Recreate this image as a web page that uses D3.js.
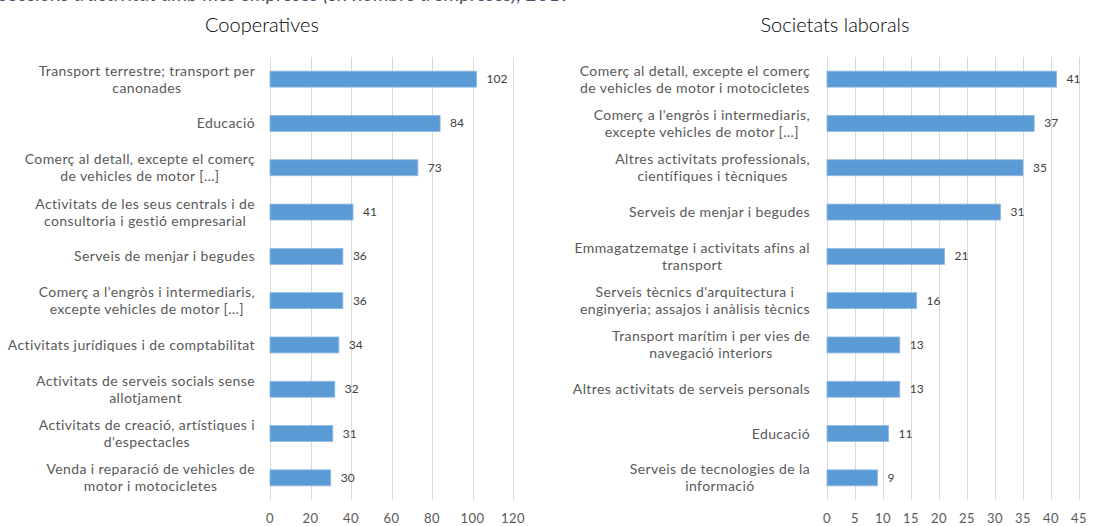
<!DOCTYPE html>
<html>
<head>
<meta charset="utf-8">
<script src="https://cdn.jsdelivr.net/npm/d3@7"></script>
<style>
  body { margin: 0; background: #fff; }
  svg { display: block; }
</style>
</head>
<body>
<svg id="chart" width="1094" height="526"></svg>
<script>
// top caption (clipped off in the source picture)
let caption = "Seccions d'activitat amb més empreses (en nombre d'empreses), 2019";

let coopTitle = "Cooperatives";
let coopCats = [
    "Transport terrestre; transport per\ncanonades",
    "Educació",
    "Comerç al detall, excepte el comerç\nde vehicles de motor  […]",
    "Activitats de les seus centrals i de\nconsultoria i gestió empresarial",
    "Serveis de menjar i begudes",
    "Comerç a l'engròs i intermediaris,\nexcepte vehicles de motor […]",
    "Activitats jurídiques i de comptabilitat",
    "Activitats de serveis socials sense\nallotjament",
    "Activitats de creació, artístiques i\nd'espectacles",
    "Venda i reparació de vehicles de\nmotor i motocicletes"
];
let coopValues = [102, 84, 73, 41, 36, 36, 34, 32, 31, 30];
let coopTicks = [0, 20, 40, 60, 80, 100, 120];

let slTitle = "Societats laborals";
let slCats = [
    "Comerç al detall, excepte el comerç\nde vehicles de motor i motocicletes",
    "Comerç a l'engròs i intermediaris,\nexcepte vehicles de motor […]",
    "Altres activitats professionals,\ncientífiques i tècniques",
    "Serveis de menjar i begudes",
    "Emmagatzematge i activitats afins al\ntransport",
    "Serveis tècnics d'arquitectura i\nenginyeria; assajos i anàlisis tècnics",
    "Transport marítim i per vies de\nnavegació interiors",
    "Altres activitats de serveis personals",
    "Educació",
    "Serveis de tecnologies de la\ninformació"
];
let slValues = [41, 37, 35, 31, 21, 16, 13, 13, 11, 9];
let slTicks = [0, 5, 10, 15, 20, 25, 30, 35, 40, 45];

let font = "Lato, 'Open Sans', sans-serif";
let svg = d3.select("#chart");

svg.append("text")
    .attr("x", -2)
    .attr("y", 1)
    .attr("font-family", font)
    .attr("font-style", "italic")
    .attr("font-size", 20)
    .attr("fill", "#44546a")
    .text(caption);

drawPanel({
    title: coopTitle, titleX: 262,
    cats: coopCats, values: coopValues, ticks: coopTicks,
    x0: 270, x1: 513, labelRight: 255
});

drawPanel({
    title: slTitle, titleX: 835,
    cats: slCats, values: slValues, ticks: slTicks,
    x0: 827, x1: 1079, labelRight: 810
});

function drawPanel(p) {
    let top = 57, bottom = 500;

    let x = d3.scaleLinear()
        .domain([p.ticks[0], p.ticks[p.ticks.length - 1]])
        .range([p.x0, p.x1]);

    let y = d3.scaleBand()
        .domain(d3.range(p.cats.length))
        .range([top, bottom])
        .paddingInner(0.64)
        .paddingOuter(0.32);

    let g = svg.append("g");

    g.append("text")
        .attr("x", p.titleX)
        .attr("y", 32)
        .attr("text-anchor", "middle")
        .attr("font-family", font)
        .attr("font-size", 20)
        .attr("font-weight", 300)
        .attr("fill", "#000")
        .text(p.title);

    // gridlines
    g.selectAll(".grid")
        .data(p.ticks)
        .enter()
        .append("line")
        .attr("x1", d => Math.round(x(d)) + 0.5)
        .attr("x2", d => Math.round(x(d)) + 0.5)
        .attr("y1", top)
        .attr("y2", bottom)
        .attr("stroke", "#d9d9d9")
        .attr("stroke-width", 1);

    // tick labels
    g.selectAll(".tick")
        .data(p.ticks)
        .enter()
        .append("text")
        .attr("x", d => x(d))
        .attr("y", 523)
        .attr("text-anchor", "middle")
        .attr("font-family", font)
        .attr("font-size", 13)
        .attr("letter-spacing", 0.5)
        .attr("fill", "#595959")
        .text(d => d);

    // bars
    g.selectAll(".bar")
        .data(p.values)
        .enter()
        .append("rect")
        .attr("x", x(0))
        .attr("y", (d, i) => y(i))
        .attr("width", d => x(d) - x(0))
        .attr("height", y.bandwidth())
        .attr("fill", "#5b9bd5")
        .attr("stroke", "#8fb8e3")
        .attr("stroke-width", 0.8);

    // value labels
    g.selectAll(".val")
        .data(p.values)
        .enter()
        .append("text")
        .attr("x", d => x(d) + 10)
        .attr("y", (d, i) => y(i) + y.bandwidth() / 2 + 4)
        .attr("font-family", font)
        .attr("font-size", 12)
        .attr("fill", "#404040")
        .text(d => d);

    // category labels: block right-aligned, lines centred within block
    let lh = 17;
    p.cats.forEach((c, i) => {
        let lines = c.split("\n");
        let cy = y(i) + y.bandwidth() / 2;
        let t = g.append("text")
            .attr("font-family", font)
            .attr("font-size", 14)
            .attr("letter-spacing", 0.4)
            .attr("fill", "#595959")
            .attr("text-anchor", "middle");
        let spans = lines.map(l => t.append("tspan").text(l));
        let w = d3.max(spans, s => s.node().getComputedTextLength());
        spans.forEach((s, k) => {
            s.attr("x", p.labelRight - w / 2)
             .attr("y", cy + (k - (lines.length - 1) / 2) * lh + 5);
        });
    });
}
</script>
</body>
</html>
